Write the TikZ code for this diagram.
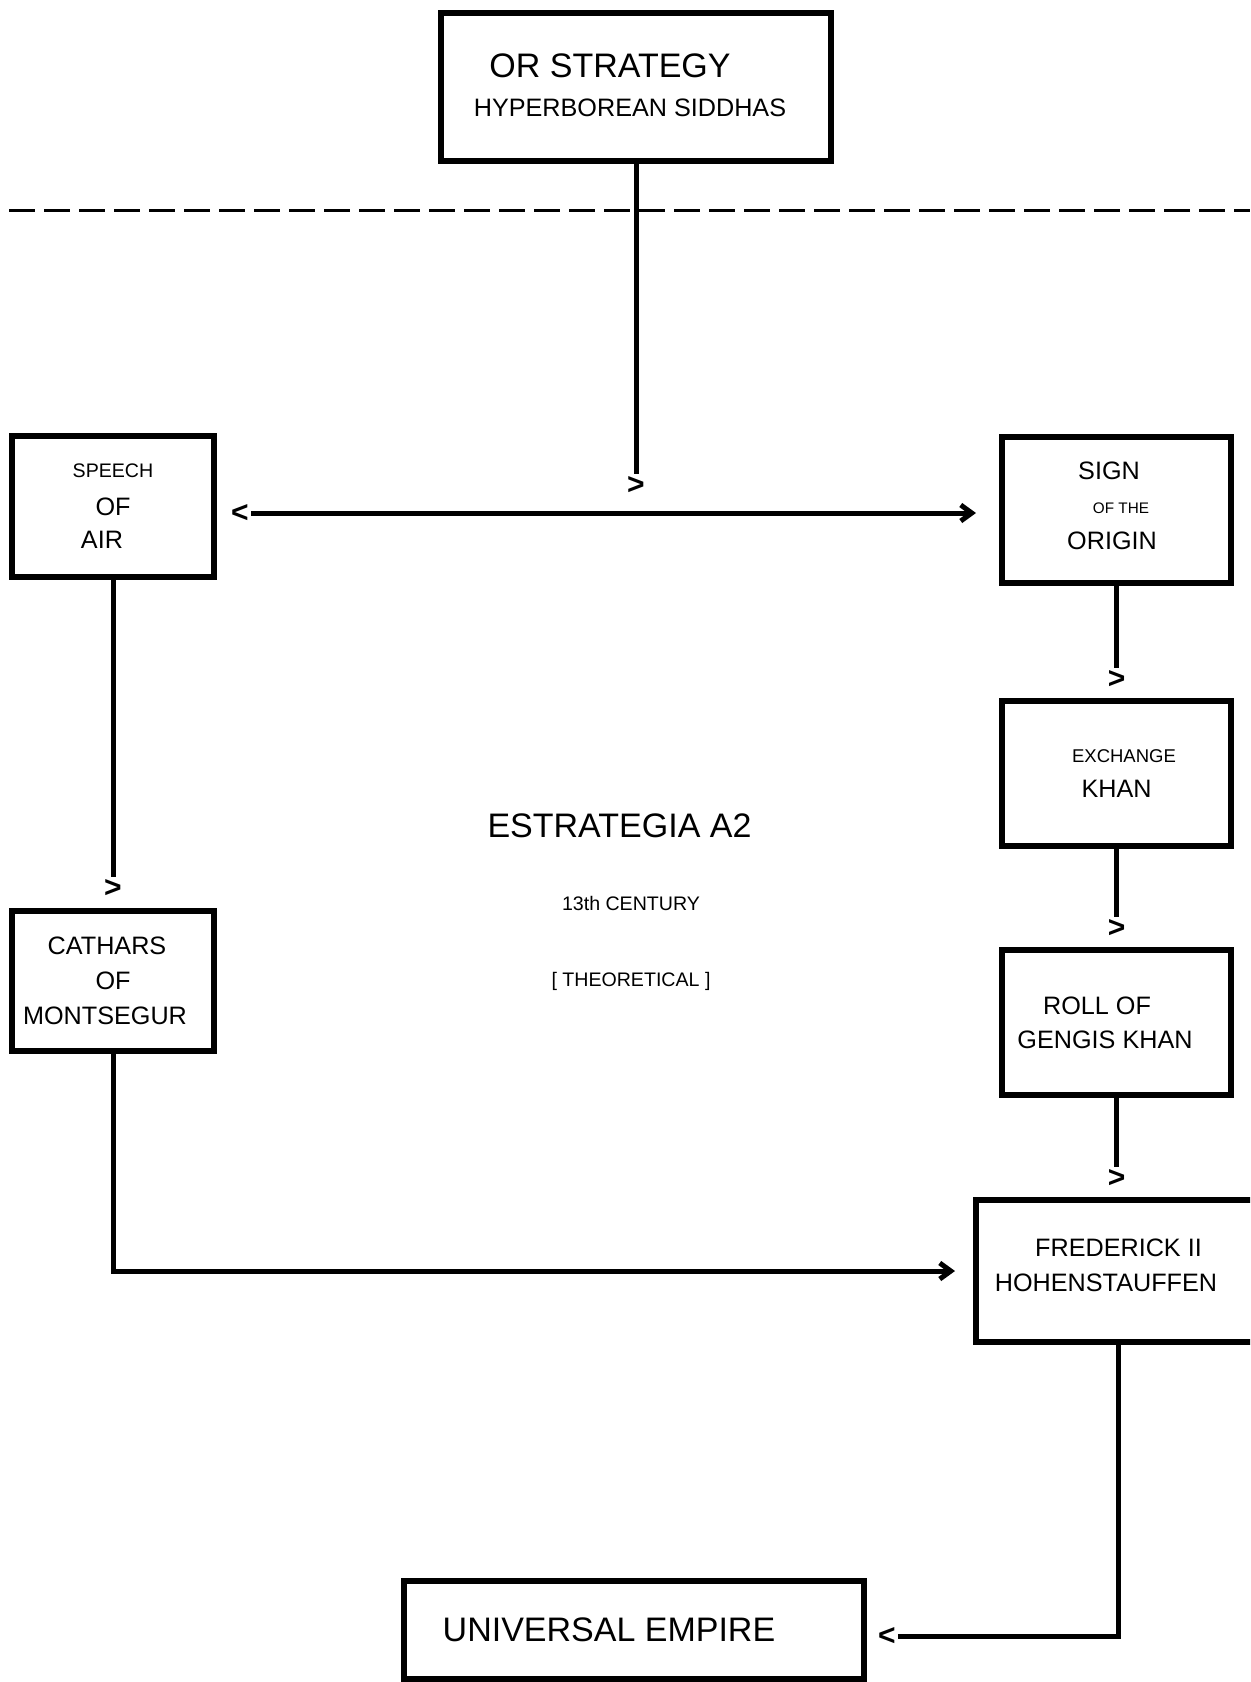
\documentclass[tikz,border=0pt]{standalone}
\usepackage{fontspec}
\setmainfont{Liberation Sans}
\usetikzlibrary{arrows.meta}
\tikzstyle{block}=[draw=black,line width=3pt,inner sep=0pt,align=center,font=\fontsize{12.6}{17.5}\selectfont]
\tikzstyle{glyph}=[inner sep=1pt,font=\bfseries\fontsize{15}{15}\selectfont]
\tikzstyle{flow}=[line width=2.5pt]
\tikzstyle{barb}=[-{Straight Barb[length=5.5pt,width=8pt]}]
\tikzstyle{divider}=[line width=1.5pt,dash pattern=on 13pt off 4.5pt]
\newcommand{\largetext}{\fontsize{17}{17}\selectfont}
\newcommand{\smalltext}{\fontsize{9.8}{9.8}\selectfont}

\begin{document}
\begin{tikzpicture}[x=0.5pt,y=-0.5pt]
    \useasboundingbox (0,0) rectangle (1250,1682);
    \clip (0,0) rectangle (1250,1682);

    \draw [divider] (9,210) -- (1250,210);

    \node (strategy) at (636,87) [block,minimum width=195pt,minimum height=74pt]
        {{\largetext OR STRATEGY}\hspace*{26pt}\\[2pt] HYPERBOREAN SIDDHAS\hspace*{6pt}\rule[-2pt]{0pt}{0pt}};
    \node (speech) at (113,506.5) [block,minimum width=101pt,minimum height=70.5pt]
        {{\smalltext SPEECH}\\[1.5pt] OF\hspace*{6pt}\\[-1pt] AIR\hspace*{11pt}};
    \node (sign) at (1116.5,510) [block,minimum width=114.5pt,minimum height=73pt]
        {SIGN\hspace*{7.5pt}\\[-0.5pt] \hspace*{4.5pt}{\fontsize{7.65}{7.65}\selectfont OF THE}\\[0.5pt] ORIGIN\hspace*{4.5pt}\rule[-4.5pt]{0pt}{0pt}};
    \node (exchange) at (1116.5,773.5) [block,minimum width=114.5pt,minimum height=72.5pt]
        {\hspace*{7.5pt}{\fontsize{9.25}{9.25}\selectfont EXCHANGE}\\ KHAN};
    \node (roll) at (1116.5,1022.5) [block,minimum width=114.5pt,minimum height=72.5pt]
        {ROLL OF\hspace*{19.5pt}\\[-0.5pt] GENGIS KHAN\hspace*{11.5pt}};
    \node (cathars) at (113,981) [block,minimum width=101pt,minimum height=70pt]
        {CATHARS\hspace*{6pt}\\ OF\hspace*{5pt}\\ MONTSEGUR\hspace*{8pt}};
    \node (frederick) at (1118.5,1271) [block,minimum width=142.5pt,minimum height=71pt]
        {FREDERICK II\\ HOHENSTAUFFEN\hspace*{12.5pt}\rule[-5.5pt]{0pt}{0pt}};
    \node (universal) at (634,1630) [block,minimum width=230pt,minimum height=49pt]
        {{\largetext UNIVERSAL EMPIRE}\hspace*{25pt}};

    \node (title) at (619.5,837) [anchor=base,font=\largetext] {ESTRATEGIA A2};
    \node (century) at (631,910) [anchor=base,font=\smalltext] {13th CENTURY};
    \node (kind) at (631,986) [anchor=base,font=\smalltext] {[ THEORETICAL ]};

    % loose arrow heads
    \node (tipA) at (636,485) [glyph] {>};
    \node (tipL) at (240,513) [glyph] {<};
    \node (tipB) at (113,888) [glyph] {>};
    \node (tipC) at (1116.5,679) [glyph] {>};
    \node (tipD) at (1116.5,928) [glyph] {>};
    \node (tipE) at (1116.5,1178) [glyph] {>};
    \node (tipF) at (887,1636) [glyph] {<};

    \draw [flow] (strategy) -- (tipA);
    \draw [flow,barb,shorten >=11.5pt] (tipL) -- (tipL -| sign.west);
    \draw [flow] (speech) -- (tipB);
    \draw [flow] (sign) -- (tipC);
    \draw [flow] (exchange) -- (tipD);
    \draw [flow] (roll) -- (tipE);
    \draw [flow,barb,shorten >=9pt] (cathars) |- (frederick);
    \draw [flow] (frederick) |- (tipF);
\end{tikzpicture}
\end{document}
